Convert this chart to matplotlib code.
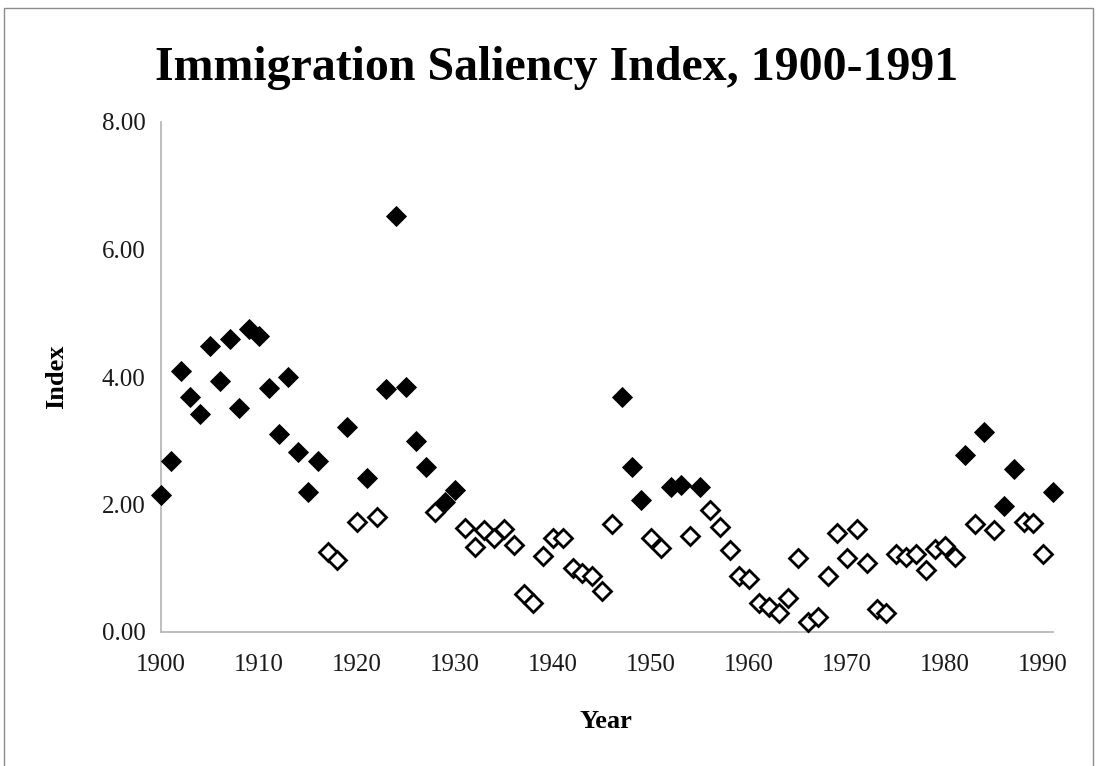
import matplotlib
matplotlib.use("Agg")
import matplotlib.pyplot as plt
from matplotlib.patches import Rectangle
from matplotlib.ticker import FormatStrFormatter

# Years shown with filled (solid) diamonds
years_filled = [1900, 1901, 1902, 1903, 1904, 1905, 1906, 1907, 1908, 1909,
                1910, 1911, 1912, 1913, 1914, 1915, 1916, 1919, 1921, 1923,
                1924, 1925, 1926, 1927, 1929, 1930, 1947, 1948, 1949, 1952,
                1953, 1955, 1982, 1984, 1986, 1987, 1991]
values_filled = [2.15, 2.68, 4.09, 3.69, 3.42, 4.48, 3.93, 4.60, 3.51, 4.76,
                 4.65, 3.83, 3.10, 4.00, 2.82, 2.20, 2.69, 3.22, 2.42, 3.81,
                 6.53, 3.84, 2.99, 2.59, 2.04, 2.22, 3.69, 2.59, 2.07, 2.27,
                 2.31, 2.27, 2.77, 3.14, 1.98, 2.55, 2.19]

# Years shown with hollow diamonds
years_hollow = [1917, 1918, 1920, 1922, 1928, 1931, 1932, 1933, 1934, 1935,
                1936, 1937, 1938, 1939, 1940, 1941, 1942, 1943, 1944, 1945,
                1946, 1950, 1951, 1954, 1956, 1957, 1958, 1959, 1960, 1961,
                1962, 1963, 1964, 1965, 1966, 1967, 1968, 1969, 1970, 1971,
                1972, 1973, 1974, 1975, 1976, 1977, 1978, 1979, 1980, 1981,
                1983, 1985, 1988, 1989, 1990]
values_hollow = [1.25, 1.13, 1.73, 1.80, 1.89, 1.63, 1.34, 1.60, 1.47, 1.61,
                 1.36, 0.60, 0.45, 1.19, 1.47, 1.47, 1.00, 0.92, 0.88, 0.65,
                 1.69, 1.47, 1.31, 1.50, 1.91, 1.65, 1.29, 0.88, 0.83, 0.45,
                 0.40, 0.30, 0.54, 1.16, 0.15, 0.23, 0.88, 1.56, 1.16, 1.61,
                 1.09, 0.36, 0.30, 1.23, 1.17, 1.23, 0.98, 1.30, 1.35, 1.17,
                 1.69, 1.60, 1.73, 1.71, 1.23]

x_ticks = [1900, 1910, 1920, 1930, 1940, 1950, 1960, 1970, 1980, 1990]
y_ticks = [0, 2, 4, 6, 8]

title = "Immigration Saliency Index, 1900-1991"

plt.rcParams['font.family'] = ['Liberation Serif', 'DejaVu Serif']

W, H = 1096, 766
fig = plt.figure(figsize=(W / 100, H / 100), dpi=100)
fig.patch.set_facecolor('white')

# outer frame
fig.patches.append(Rectangle((4 / W, -0.05), (1093 - 4) / W, 1.05 - 8 / H,
                             transform=fig.transFigure, fill=False,
                             edgecolor='#8c8c8c', linewidth=1.0))

ax = fig.add_axes([161 / W, 1 - 632 / H, (1053 - 161) / W, (632 - 122) / H])

ax.plot(years_hollow, values_hollow, linestyle='none', marker='D',
        markersize=9.6, markerfacecolor='white', markeredgecolor='black',
        markeredgewidth=2.0, clip_on=False, zorder=3)
ax.plot(years_filled, values_filled, linestyle='none', marker='D',
        markersize=10.5, markerfacecolor='black', markeredgecolor='black',
        markeredgewidth=0.6, clip_on=False, zorder=4)

ax.set_xlim(1900, 1991)
ax.set_ylim(0, 8)
ax.set_xticks(x_ticks)
ax.set_yticks(y_ticks)
ax.yaxis.set_major_formatter(FormatStrFormatter('%.2f'))

for s in ['top', 'right']:
    ax.spines[s].set_visible(False)
for s in ['left', 'bottom']:
    ax.spines[s].set_color('#b3b3b3')
    ax.spines[s].set_linewidth(1.2)

ax.tick_params(axis='both', length=0, labelsize=18, colors='#1a1a1a')
ax.tick_params(axis='x', pad=16)
ax.tick_params(axis='y', pad=11)

ax.set_xlabel('Year', fontsize=19, fontweight='bold')
ax.xaxis.set_label_coords(0.499, -(710 - 632) / 510)
ax.set_ylabel('Index', fontsize=19, fontweight='bold', va='center')
ax.yaxis.set_label_coords((57 - 161) / 892, 0.5)

fig.text(557 / W, 1 - 80 / H, title, ha='center', va='baseline',
         fontsize=34.5, fontweight='bold')

fig.savefig('out.png', dpi=100)
